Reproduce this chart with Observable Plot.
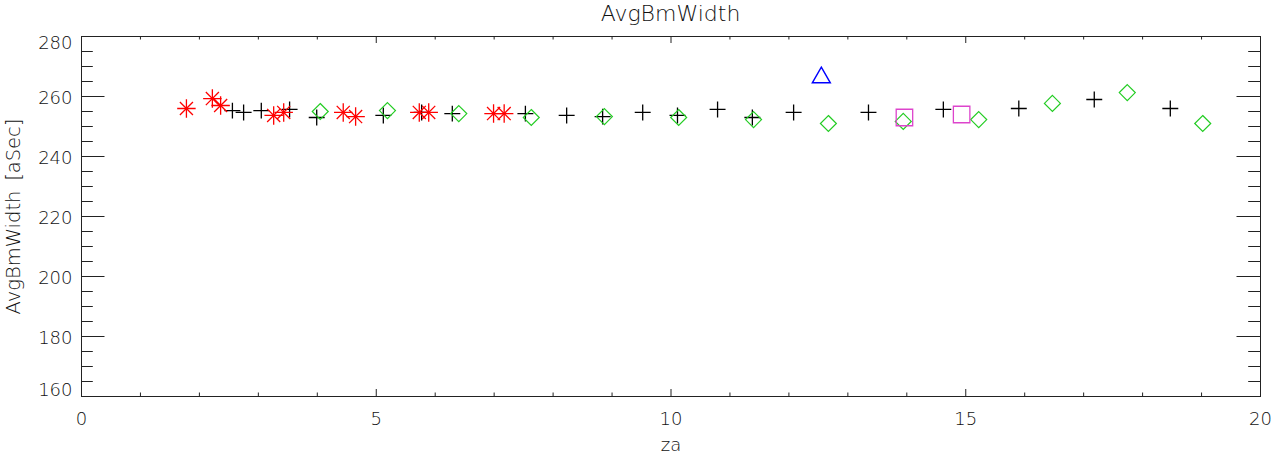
<!DOCTYPE html>
<html><head><meta charset="utf-8">
<script src="https://cdn.jsdelivr.net/npm/d3@7"></script>
<script src="https://cdn.jsdelivr.net/npm/@observablehq/plot@0.6"></script>
<style>
body{margin:0;background:#fff;font-family:"DejaVu Sans",sans-serif}
#title{width:1287px;height:30px;box-sizing:border-box;padding:2px 27px 0 81px;line-height:24px;text-align:center;font-size:22px;font-weight:200;color:#111}
</style></head><body>
<div id="title">AvgBmWidth</div>
<div id="chart"></div>
<script>
// ---- data ----
const redZa   = [1.78, 2.22, 2.36, 3.26, 3.43, 4.44, 4.65, 5.73, 5.89, 6.99, 7.17];
const redW    = [256.0, 259.3, 257.0, 253.7, 254.7, 254.7, 253.3, 254.7, 254.7, 254.3, 254.3];
const blackZa = [2.56, 2.75, 3.05, 3.53, 3.99, 5.12, 5.77, 6.29, 7.53, 8.23, 8.84, 9.52, 10.11, 10.79, 11.38, 12.08, 13.35, 14.62, 15.90, 17.18, 18.47];
const blackW  = [255.3, 254.7, 255.3, 255.7, 253.0, 253.7, 254.7, 254.3, 254.3, 253.7, 253.3, 254.7, 253.7, 255.7, 253.0, 254.7, 254.7, 255.7, 256.0, 259.0, 256.0];
const greenZa = [4.05, 5.19, 6.40, 7.63, 8.87, 10.13, 11.40, 12.67, 13.94, 15.22, 16.47, 17.74, 19.02];
const greenW  = [255.0, 255.3, 254.3, 253.0, 253.3, 253.0, 252.3, 251.0, 251.7, 252.3, 257.7, 261.3, 251.0];
const blueZa  = [12.55];
const blueW   = [266.3];
const magZa   = [13.96, 14.93];
const magW    = [253.0, 254.0];

const xMajor = [0, 5, 10, 15, 20];
const xMinor = [1,2,3,4,6,7,8,9,11,12,13,14,16,17,18,19];
const yMajor = [160, 180, 200, 220, 240, 260, 280];
const yMinor = [165,170,175,185,190,195,205,210,215,225,230,235,245,250,255,265,270,275];
const xLabel = "za";
const yLabel = "AvgBmWidth\u2002[aSec]";

const rows = (xs, ys) => xs.map((za, i) => ({za, w: ys[i]}));
const red = rows(redZa, redW), black = rows(blackZa, blackW), green = rows(greenZa, greenW),
      blue = rows(blueZa, blueW), mag = rows(magZa, magW);

const W = 1287, H = 442, mL = 81, mR = 27, mT = 6, mB = 76;
const pW = W - mL - mR, pH = H - mT - mB;
const ink = "#222", txt = "#111";
const fw = 200;

const yInner = yMajor.slice(1, -1);
const yTop = yMajor.slice(-1), yBottom = yMajor.slice(0, 1);

const chart = Plot.plot({
  width: W, height: H,
  marginLeft: mL, marginRight: mR, marginTop: mT, marginBottom: mB,
  style: {fontFamily: "DejaVu Sans, sans-serif", fontSize: "18px", color: txt, background: "#fff"},
  x: {domain: [0, 20]},
  y: {domain: [160, 280]},
  marks: [
    Plot.frame({stroke: ink}),
    // x ticks (bottom & top, inward)
    Plot.tickX(xMajor, {x: d => d, insetTop: pH - 7, stroke: ink}),
    Plot.tickX(xMajor, {x: d => d, insetBottom: pH - 7, stroke: ink}),
    Plot.tickX(xMinor, {x: d => d, insetTop: pH - 3.5, stroke: ink}),
    Plot.tickX(xMinor, {x: d => d, insetBottom: pH - 3.5, stroke: ink}),
    // y ticks (left & right, inward)
    Plot.tickY(yMajor, {y: d => d, insetRight: pW - 23.5, stroke: ink}),
    Plot.tickY(yMajor, {y: d => d, insetLeft: pW - 23.5, stroke: ink}),
    Plot.tickY(yMinor, {y: d => d, insetRight: pW - 11.8, stroke: ink}),
    Plot.tickY(yMinor, {y: d => d, insetLeft: pW - 11.8, stroke: ink}),
    Plot.axisX({ticks: xMajor, tickSize: 0, tickPadding: 16, label: null, anchor: "bottom", fontSize: 18, fontWeight: fw}),
    Plot.axisY({ticks: yInner, tickSize: 0, tickPadding: 9, label: null, anchor: "left", fontSize: 18, fontWeight: fw, dy: 1.5}),
    Plot.text(yTop, {y: d => d, text: d => String(d), frameAnchor: "left", dx: -9, textAnchor: "end", dy: 7, fontSize: 18, fontWeight: fw, fill: txt}),
    Plot.text(yBottom, {y: d => d, text: d => String(d), frameAnchor: "left", dx: -9, textAnchor: "end", dy: -6, fontSize: 18, fontWeight: fw, fill: txt}),
    Plot.text([xLabel], {text: d => d, frameAnchor: "bottom", dy: 54, fontSize: 18, fontWeight: fw, fill: txt}),
    Plot.text([yLabel], {text: d => d, frameAnchor: "left", textAnchor: "middle", dx: -68, rotate: -90, fontSize: 19.5, fontWeight: fw, fill: txt}),
    // data
    Plot.dot(black, {x: "za", y: "w", symbol: "plus", r: 5.2, stroke: "#000", strokeWidth: 1.3}),
    Plot.dot(red, {x: "za", y: "w", symbol: "plus", r: 6, stroke: "#ff0000", strokeWidth: 1.3}),
    Plot.dot(red, {x: "za", y: "w", symbol: "times", r: 6, stroke: "#ff0000", strokeWidth: 1.3}),
    Plot.dot(green, {x: "za", y: "w", symbol: "diamond2", r: 7.2, stroke: "#22cc22", strokeWidth: 1.2}),
    Plot.dot(blue, {x: "za", y: "w", symbol: "triangle2", r: 8.6, stroke: "#0000ff", strokeWidth: 1.4}),
    Plot.dot(mag, {x: "za", y: "w", symbol: "square2", r: 10.5, stroke: "#dd44cc", strokeWidth: 1.3})
  ]
});
document.getElementById("chart").append(chart);
</script>
</body></html>
